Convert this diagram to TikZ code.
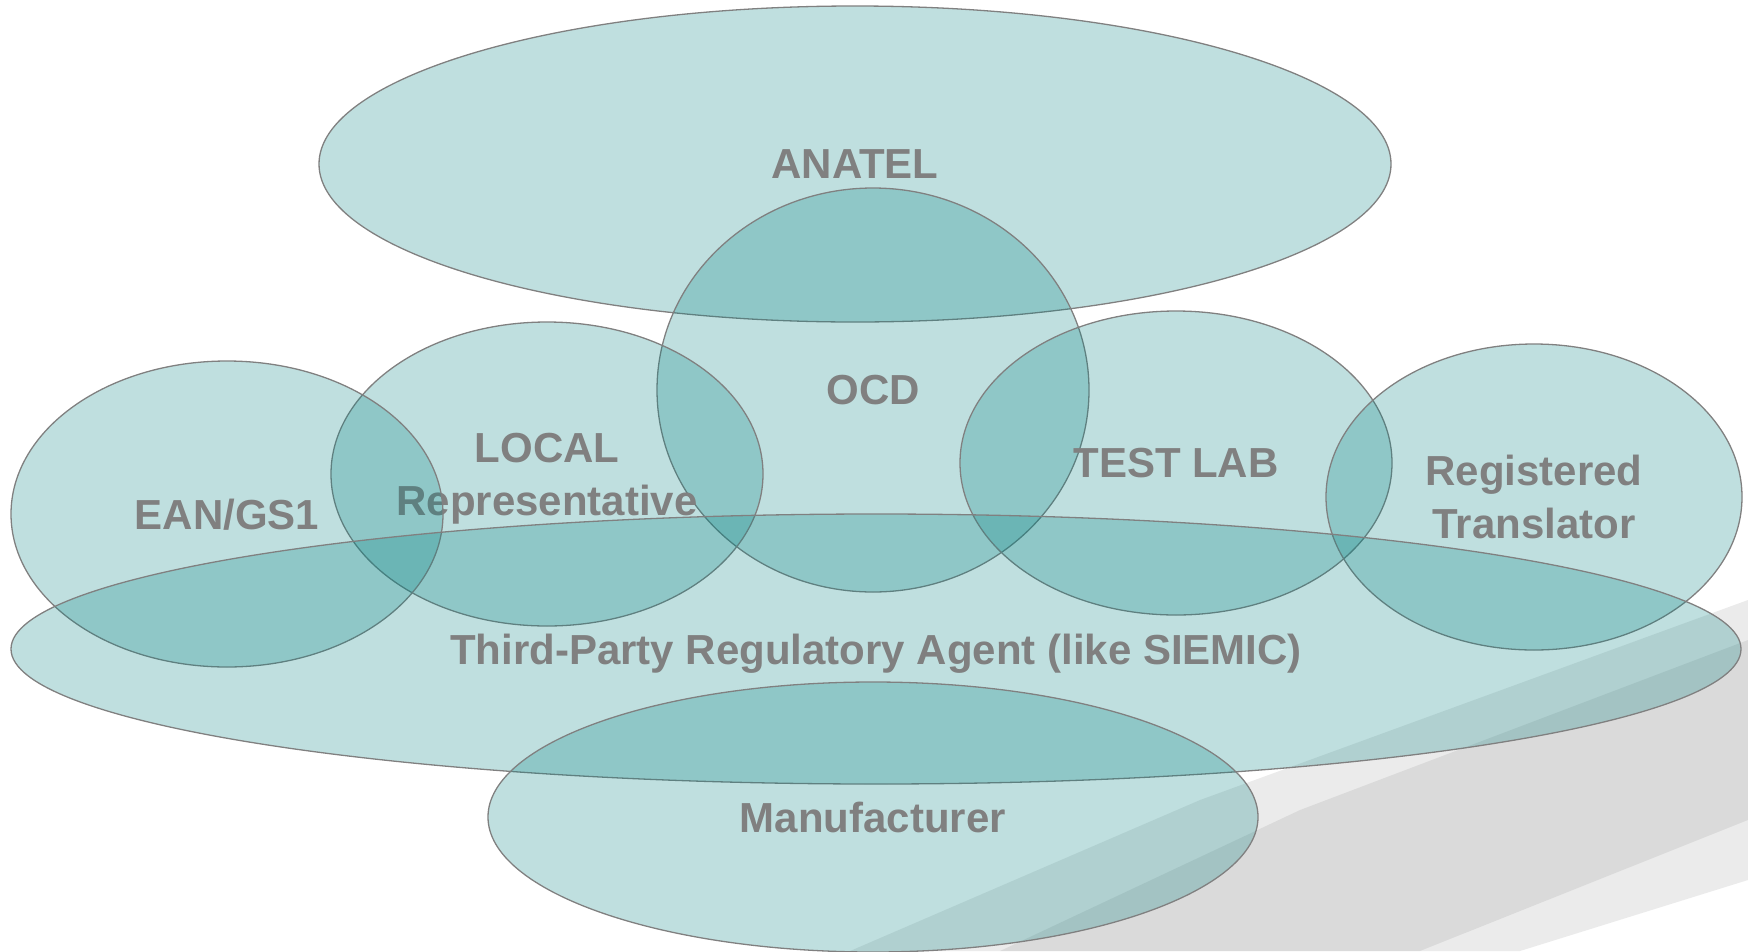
\documentclass[tikz,border=0pt]{standalone}
\usepackage{fontspec}
\setmainfont{Liberation Sans}
\usetikzlibrary{shapes.geometric}

\begin{document}
\begin{tikzpicture}[
  x=1pt,y=-1pt,
  org/.style={ellipse,draw=gray,line width=1.3pt,fill=teal,fill opacity=0.25,text opacity=1,text=gray,
    inner sep=0pt,text depth=0pt,align=center,font=\fontsize{42}{53}\selectfont\bfseries},
  photo/.style={draw=none,fill=black,opacity=0.08}
]
\useasboundingbox (0,0) rectangle (1748,951);
% faded photo behind the ellipses
\fill[photo] (850,951) -- (1200,800) -- (1748,600) -- (1748,880) -- (1520,951) -- cycle;
\fill[photo,opacity=0.07] (1000,951) -- (1300,810) -- (1748,640) -- (1748,820) -- (1420,951) -- cycle;
\node[org,minimum width=1072,minimum height=316] (anatel) at (855,164) {ANATEL};
\node[org,minimum width=432,minimum height=404] (ocd) at (873,390) {OCD};
\node[org,minimum width=432,minimum height=304] (local) at (547,474) {LOCAL\\Representative};
\node[org,minimum width=432,minimum height=306] (ean) at (227,514) {EAN/GS1};
\node[org,minimum width=432,minimum height=304] (testlab) at (1176,463) {TEST LAB};
\node[org,minimum width=416,minimum height=306] (transl) at (1534,497) {Registered\\Translator};
\node[org,minimum width=1730,minimum height=270] (agent) at (876,649) {Third-Party Regulatory Agent (like SIEMIC)};
\node[org,minimum width=770,minimum height=270] (manuf) at (873,817) {Manufacturer};
\end{tikzpicture}
\end{document}
